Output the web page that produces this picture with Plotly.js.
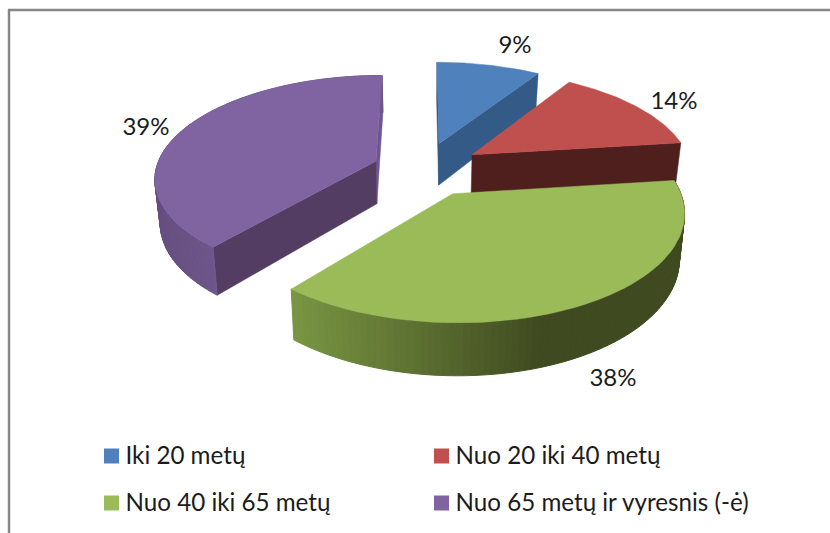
<!DOCTYPE html>
<html><head><meta charset="utf-8">
<script src="https://cdn.plot.ly/plotly-3.0.1.min.js"></script>
<style>html,body{margin:0;padding:0;background:#fff}#c{width:830px;height:533px}</style>
</head><body><div id="c"></div>
<script>
// Data
const categories = ['Iki 20 metų','Nuo 20 iki 40 metų','Nuo 40 iki 65 metų','Nuo 65 metų ir vyresnis (-ė)'];
const shares = [9,14,38,39];

// Styling / geometry of the 3-D look (not data)
const topColors = ['#4F81BD','#C0504D','#9BBB59','#8064A2'];
const frontCut = ['#345A87','#4F1F1E',null,'#533D63'];
const backCut = ['#2F4F78',null,null,'#6E5690'];
const frontCutAtEnd = [true,true,false,false];
const pulls = [0.27,0.27,0.27,0.23];
const wallStops = [null,null,[[288,[122,151,67]],[540,[64,74,32]],[700,[64,74,32]]],[[150,[100,78,126]],[213,[110,86,138]]]];
const labelX = [515,674,613,146], labelY = [47,103,380,129];
const keyX = [111.5,441.5,111.5,441.5], keyY = [456,456,503,503];
const G = {x0:423,y0:169,R:220,Ry:101,k:0.152,D:43,bx:0.98};
const FONT = 'Lato, "Open Sans", sans-serif';

function proj(X,Y,bottom){
  const s=1/(1+G.k*Y);
  let x=G.x0+G.R*X*s, y=G.y0-G.Ry*Y*s;
  if(bottom){x=G.x0+(x-G.x0)*G.bx; y+=G.D*s;}
  return [x,y];
}
function rad(d){return d*Math.PI/180;}
function poly(pts,color,w){
  return {type:'scatter',mode:'lines',x:pts.map(p=>p[0]).concat(pts[0][0]),y:pts.map(p=>p[1]).concat(pts[0][1]),
    fill:'toself',fillcolor:color,line:{color:color,width:w===undefined?0.5:w},showlegend:false,hoverinfo:'skip'};
}
function lerpColor(stops,x){
  if(x<=stops[0][0])return stops[0][1];
  for(let i=1;i<stops.length;i++){
    if(x<=stops[i][0]){const t=(x-stops[i-1][0])/(stops[i][0]-stops[i-1][0]);
      return stops[i-1][1].map((c,j)=>c+(stops[i][1][j]-c)*t);}
  }
  return stops[stops.length-1][1];
}
const total=shares.reduce((a,b)=>a+b,0);
let acc=0;
const slices=shares.map((v,i)=>{const a0=acc/total*360;acc+=v;const a1=acc/total*360;return {i,a0,a1};});
const traces=[];
[0,1,3,2].forEach(idx=>{
  const {i,a0,a1}=slices[idx];
  const mid=rad((a0+a1)/2);
  const ax=pulls[i]*Math.sin(mid), ay=pulls[i]*Math.cos(mid);
  const rim=a=>[ax+Math.sin(rad(a)),ay+Math.cos(rad(a))];
  const cut=(a,color)=>{const r=rim(a);
    return poly([proj(ax,ay,false),proj(r[0],r[1],false),proj(r[0],r[1],true),proj(ax,ay,true)],color);};
  if(backCut[i]) traces.push(cut(frontCutAtEnd[i]?a0:a1,backCut[i]));
  if(frontCut[i]) traces.push(cut(frontCutAtEnd[i]?a1:a0,frontCut[i]));
  if(wallStops[i]){
    const n=Math.round((a1-a0)/1.5);
    for(let j=0;j<n;j++){
      const b0=a0+(a1-a0)*j/n,b1=a0+(a1-a0)*(j+1)/n;
      const r0=rim(b0),r1=rim(b1);
      const p=[proj(r0[0],r0[1],false),proj(r1[0],r1[1],false),proj(r1[0],r1[1],true),proj(r0[0],r0[1],true)];
      const c=lerpColor(wallStops[i],(p[0][0]+p[1][0])/2).map(Math.round);
      traces.push(poly(p,`rgb(${c.join(',')})`,1));
    }
  }
  const pts=[proj(ax,ay,false)];
  for(let a=a0;a<=a1+1e-6;a+=(a1-a0)/60){const r=rim(a);pts.push(proj(r[0],r[1],false));}
  traces.push(poly(pts,topColors[i]));
});
// percentage labels
traces.push({type:'scatter',mode:'text',x:labelX,y:labelY,text:shares.map(v=>v+'%'),textposition:'middle center',
  textfont:{family:FONT,size:24,color:'#1c1c1c'},showlegend:false,hoverinfo:'skip'});
// key: square swatch and its name, one trace per category
categories.forEach((name,i)=>{
  traces.push({type:'scatter',mode:'markers',x:[keyX[i]],y:[keyY[i]],name,
    marker:{symbol:'square',size:15,color:topColors[i]},showlegend:false,hoverinfo:'skip'});
  traces.push({type:'scatter',mode:'text',x:[keyX[i]+14],y:[keyY[i]+2],text:[name],textposition:'middle right',
    textfont:{family:FONT,size:24.2,color:'#1c1c1c'},showlegend:false,hoverinfo:'skip',cliponaxis:false});
});

const layout={
  width:830,height:533,margin:{l:0,r:0,t:0,b:0},paper_bgcolor:'#fff',plot_bgcolor:'#fff',showlegend:false,
  xaxis:{range:[0,830],visible:false,fixedrange:true},
  yaxis:{range:[533,0],visible:false,fixedrange:true},
  shapes:[
    {type:'line',xref:'paper',yref:'paper',x0:9/830,x1:9/830,y0:0,y1:1-10/533,line:{color:'#868686',width:2.5}},
    {type:'line',xref:'paper',yref:'paper',x0:8/830,x1:1,y0:1-10/533,y1:1-10/533,line:{color:'#868686',width:2.5}}
  ]
};
Plotly.newPlot('c',traces,layout,{displayModeBar:false});
</script></body></html>
